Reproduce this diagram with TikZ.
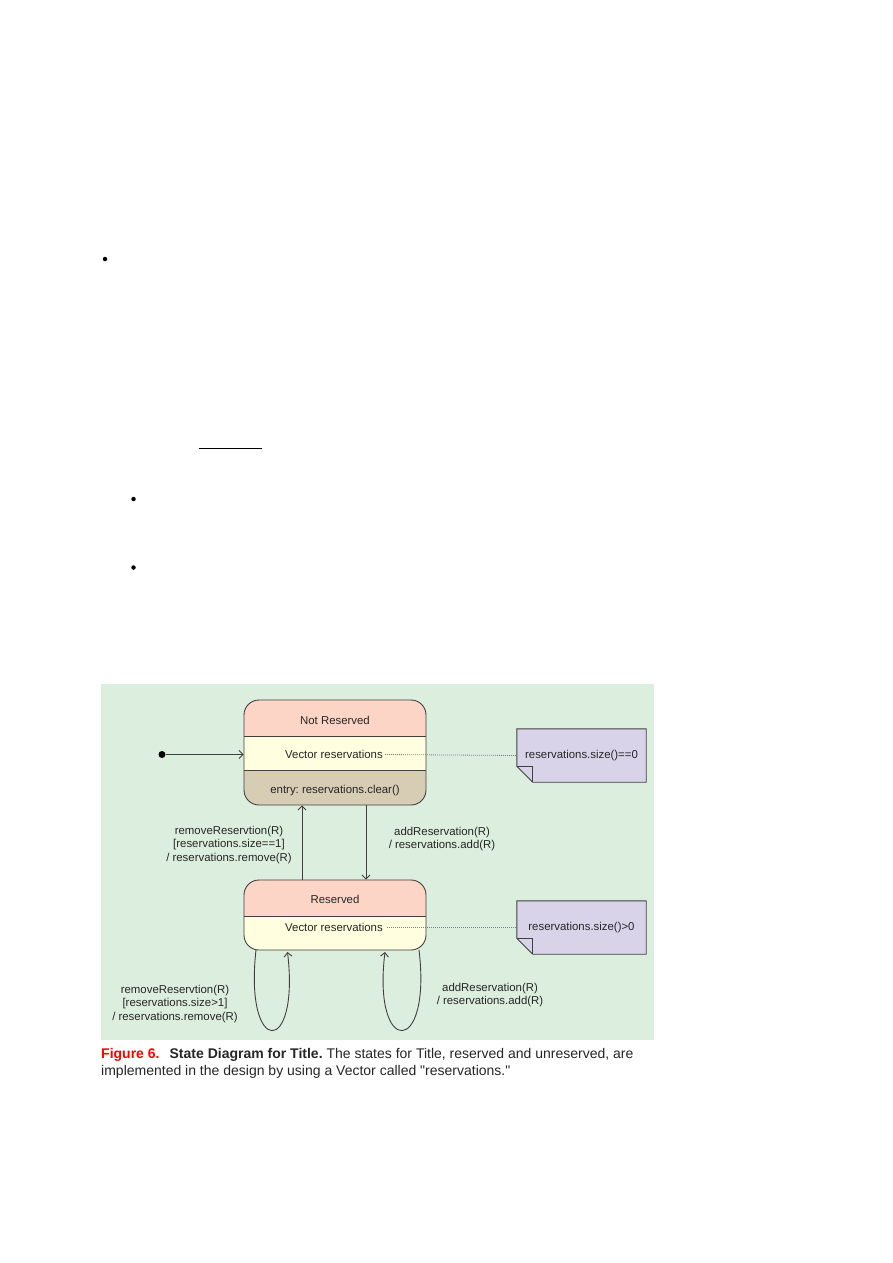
\documentclass[tikz,border=0pt]{standalone}
\usepackage{fontspec}
\setmainfont{Liberation Sans}
\usetikzlibrary{arrows.meta}
\definecolor{bggreen}{HTML}{DCEEDD}
\definecolor{hdpink}{HTML}{FDD5C6}
\definecolor{bodyyel}{HTML}{FFFFDF}
\definecolor{entrytan}{HTML}{D7CDB5}
\definecolor{notepur}{HTML}{D9D3E9}
\definecolor{linegray}{HTML}{404040}
\definecolor{figred}{HTML}{FF0000}
\frenchspacing
\tikzset{
  txt/.style={font=\fontsize{11.4}{13.8}\selectfont, inner sep=0pt, align=center, text=black!85},
  statebox/.style={draw=linegray, line width=0.9pt, rounded corners=15pt, inner sep=0pt},
  arr/.style={draw=linegray, line width=0.9pt, -{Straight Barb[length=4pt,width=8pt]}},
  dotline/.style={draw=gray, line width=0.8pt, dash pattern=on 1pt off 1pt},
  notebox/.style={draw=linegray, line width=0.9pt, fill=notepur},
  bullet/.style={circle, fill=black, inner sep=0pt, minimum size=4.5pt},
}
\begin{document}
\begin{tikzpicture}[x=1pt,y=-1pt]
\useasboundingbox[fill=white] (0,0) rectangle (893,1263);
% page bullets
\node[bullet] (b1) at (105,259) {};
\node[bullet] (b2) at (133.5,499) {};
\node[bullet] (b3) at (133.5,567.5) {};
\draw[line width=1pt] (199,448) -- (262,448);
% background
\fill[bggreen] (101,684) rectangle (654,1040);
% Not Reserved state
\begin{scope}
\clip[rounded corners=15pt] (244,700) rectangle (426,805);
\fill[hdpink] (244,700) rectangle (426,736);
\fill[bodyyel] (244,736) rectangle (426,770);
\fill[entrytan] (244,770) rectangle (426,805);
\end{scope}
\node[statebox, minimum width=182pt, minimum height=105pt] (nr) at (335,752.5) {};
\draw[linegray, line width=0.9pt] (244,736) -- (426,736) (244,770) -- (426,770);
\node[txt] (nrt) at (335,720) {Not Reserved};
\node[txt] (vr1) at (334,754.5) {Vector reservations};
\node[txt] (ent) at (335,791) {entry: reservations.clear()};
% Reserved state
\begin{scope}
\clip[rounded corners=15pt] (244,880) rectangle (426,950);
\fill[hdpink] (244,880) rectangle (426,916);
\fill[bodyyel] (244,916) rectangle (426,950);
\end{scope}
\node[statebox, minimum width=182pt, minimum height=70pt] (rs) at (335,915) {};
\draw[linegray, line width=0.9pt] (244,916) -- (426,916);
\node[txt] (rst) at (335,899) {Reserved};
\node[txt] (vr2) at (334,927.5) {Vector reservations};
% notes
\node[txt, minimum width=129pt, minimum height=53pt] (n1) at (581.5,755.5) {};
\draw[notebox] (n1.north west) -- (n1.north east) -- (n1.south east) -- ([xshift=16pt]n1.south west) -- ([yshift=16pt]n1.south west) -- cycle;
\draw[linegray, line width=0.9pt] ([yshift=16pt]n1.south west) -- ([xshift=16pt,yshift=16pt]n1.south west) -- ([xshift=16pt]n1.south west);
\node[txt, minimum width=129pt, minimum height=53pt] (n2) at (581.5,927.5) {};
\draw[notebox] (n2.north west) -- (n2.north east) -- (n2.south east) -- ([xshift=16pt]n2.south west) -- ([yshift=16pt]n2.south west) -- cycle;
\draw[linegray, line width=0.9pt] ([yshift=16pt]n2.south west) -- ([xshift=16pt,yshift=16pt]n2.south west) -- ([xshift=16pt]n2.south west);
\node[txt] (n1t) at (n1) {reservations.size()==0};
\node[txt] (n2t) at (n2) {reservations.size()>0};
% dotted connectors
\draw[dotline] ([xshift=2pt]vr1.east) -- (n1.west);
\draw[dotline] ([xshift=4pt]vr2.east) -- (n2.west);
% initial
\node[circle, fill=black, inner sep=0pt, minimum size=7pt] (init) at (162,754.5) {};
\draw[arr] (init) -- (nr.west |- init);
% transitions
\draw[arr] (rs.north -| 302,0) -- (nr.south -| 302,0);
\draw[arr] (nr.south -| 366,0) -- (rs.north -| 366,0);
\node[txt] (lab1) at (229,845) {removeReservtion(R)\\{}[reservations.size==1]\\/ reservations.remove(R)};
\node[txt] (lab2) at (442,839) {addReservation(R)\\/ reservations.add(R)};
% self loops
\coordinate (l1a) at (256,950);
\coordinate (l1b) at (287.5,952);
\draw[arr] (l1a) .. controls (244,1057) and (300,1057) .. (l1b);
\coordinate (l2a) at (419,950);
\coordinate (l2b) at (385,952);
\draw[arr] (l2a) .. controls (432,1057) and (372,1057) .. (l2b);
\node[txt] (lab3) at (175,1004) {removeReservtion(R)\\{}[reservations.size>1]\\/ reservations.remove(R)};
\node[txt] (lab4) at (490,995) {addReservation(R)\\/ reservations.add(R)};
% caption
\node[anchor=base west, inner sep=0pt, font=\fontsize{14}{17}\selectfont, align=left, text=black!85] (cap) at (101,1075)
 {{\bfseries\color{figred}Figure 6.}\ \ \,{\bfseries State Diagram for Title.} The states for Title, reserved and unreserved, are\\
 implemented in the design by using a Vector called \textquotedbl reservations.\textquotedbl};
\end{tikzpicture}
\end{document}
